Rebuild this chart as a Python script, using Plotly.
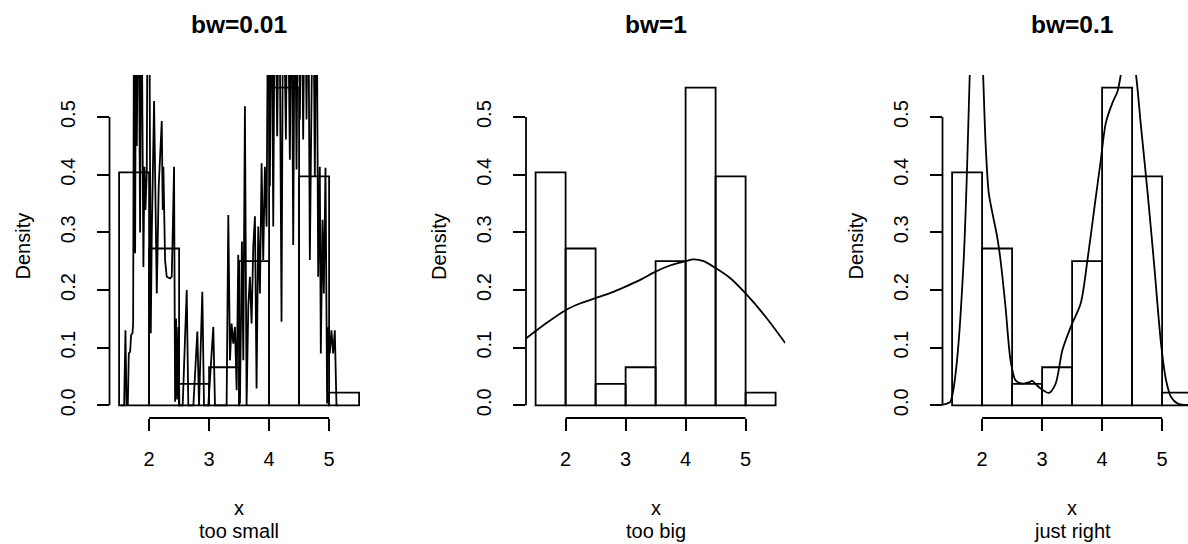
import plotly.graph_objects as go

# ---------------- data ----------------
breaks = [1.5, 2.0, 2.5, 3.0, 3.5, 4.0, 4.5, 5.0, 5.5]
hist_density = [0.404, 0.272, 0.037, 0.066, 0.250, 0.551, 0.397, 0.022]

titles = ["bw=0.01", "bw=1", "bw=0.1"]
subtitles = ["too small", "too big", "just right"]
x_ticks = [2, 3, 4, 5]
y_ticks = [0.0, 0.1, 0.2, 0.3, 0.4, 0.5]

# bw = 0.01 (jagged estimate; spikes beyond the top are clipped)
bw001_x = [1.529, 1.584, 1.606, 1.623, 1.645, 1.662, 1.684, 1.700, 1.723, 1.734,
           1.750, 1.767, 1.784, 1.795, 1.822, 1.850, 1.870, 1.905, 1.922, 1.939,
           1.961, 1.978, 2.000, 2.028, 2.045, 2.083, 2.128, 2.160, 2.211, 2.227,
           2.238, 2.266, 2.294, 2.350, 2.377, 2.394, 2.416, 2.433, 2.450, 2.466,
           2.488, 2.505, 2.560, 2.627, 2.654, 2.738, 2.804, 2.832, 2.887, 2.915,
           2.987, 3.070, 3.098, 3.292, 3.320, 3.348, 3.375, 3.403, 3.431, 3.459,
           3.486, 3.514, 3.547, 3.570, 3.597, 3.625, 3.653, 3.680, 3.708, 3.736,
           3.764, 3.791, 3.819, 3.847, 3.875, 3.902, 3.930, 3.958, 3.986, 4.013,
           4.040, 4.069, 4.097, 4.135, 4.169, 4.207, 4.235, 4.280, 4.307, 4.346,
           4.374, 4.402, 4.430, 4.457, 4.485, 4.513, 4.540, 4.568, 4.596, 4.624,
           4.651, 4.679, 4.707, 4.734, 4.762, 4.790, 4.818, 4.845, 4.862, 4.890,
           4.912, 4.940, 4.967, 4.989, 5.012, 5.039, 5.067, 5.095, 5.123, 5.150]
bw001_y = [0.000, 0.000, 0.130, 0.003, 0.000, 0.090, 0.093, 0.122, 0.125, 0.142,
           0.800, 0.264, 0.800, 0.450, 0.800, 0.300, 0.800, 0.240, 0.414, 0.339,
           0.403, 0.800, 0.800, 0.125, 0.300, 0.528, 0.194, 0.380, 0.493, 0.339,
           0.414, 0.252, 0.223, 0.220, 0.223, 0.300, 0.414, 0.006, 0.150, 0.010,
           0.136, 0.000, 0.000, 0.200, 0.000, 0.000, 0.128, 0.000, 0.197, 0.000,
           0.000, 0.136, 0.000, 0.000, 0.330, 0.078, 0.142, 0.107, 0.136, 0.026,
           0.261, 0.003, 0.284, 0.078, 0.519, 0.000, 0.171, 0.223, 0.142, 0.275,
           0.328, 0.029, 0.310, 0.194, 0.420, 0.252, 0.414, 0.310, 0.800, 0.380,
           0.800, 0.310, 0.800, 0.467, 0.800, 0.145, 0.800, 0.461, 0.800, 0.426,
           0.800, 0.278, 0.800, 0.409, 0.800, 0.496, 0.800, 0.461, 0.800, 0.496,
           0.800, 0.252, 0.484, 0.800, 0.397, 0.800, 0.223, 0.414, 0.090, 0.322,
           0.194, 0.412, 0.003, 0.136, 0.090, 0.130, 0.090, 0.130, 0.000, 0.000]

# bw = 1
bw1_x = [1.34, 1.67, 2.00, 2.25, 2.50, 2.75, 3.00, 3.25, 3.50, 3.75, 4.00, 4.13,
         4.30, 4.50, 4.75, 5.00, 5.33, 5.66]
bw1_y = [0.116, 0.142, 0.165, 0.177, 0.186, 0.195, 0.206, 0.218, 0.232, 0.243,
         0.250, 0.253, 0.250, 0.238, 0.220, 0.194, 0.154, 0.108]

# bw = 0.1
bw01_x = [1.303, 1.415, 1.470, 1.498, 1.582, 1.693, 1.749, 1.794, 1.850, 1.905,
          1.960, 2.017, 2.060, 2.111, 2.167, 2.250, 2.307, 2.390, 2.474, 2.557,
          2.669, 2.780, 2.836, 2.900, 2.975, 3.115, 3.226, 3.338, 3.477, 3.644,
          3.756, 3.867, 3.979, 4.062, 4.174, 4.258, 4.313, 4.380, 4.440, 4.500,
          4.564, 4.648, 4.759, 4.871, 4.982, 5.066, 5.149, 5.261, 5.456]
bw01_y = [0.000, 0.003, 0.006, 0.0145, 0.078, 0.252, 0.409, 0.574, 0.730, 0.780,
          0.740, 0.574, 0.450, 0.368, 0.336, 0.293, 0.252, 0.171, 0.078, 0.0435,
          0.0377, 0.040, 0.0423, 0.036, 0.029, 0.0215, 0.0377, 0.0957, 0.136, 0.177,
          0.252, 0.339, 0.426, 0.490, 0.525, 0.545, 0.574, 0.610, 0.625, 0.610,
          0.574, 0.484, 0.368, 0.240, 0.107, 0.0435, 0.0145, 0.003, 0.000]

curves = [(bw001_x, bw001_y, "linear"), (bw1_x, bw1_y, "spline"), (bw01_x, bw01_y, "spline")]

# ---------------- layout geometry (pixels) ----------------
W, H = 1188, 544
PANEL_LEFT = [109.5, 526.0, 942.5]
UNIT = 60.0
TOP, BOTTOM = 75.0, 418.0
FONT = "Liberation Sans, Arial, Helvetica, sans-serif"
LW = 1.8

x_lo = breaks[0] - 0.04 * (breaks[-1] - breaks[0])
x_hi = breaks[-1] + 0.04 * (breaks[-1] - breaks[0])
y_max = max(hist_density)
y_lo, y_hi = -0.04 * y_max, y_max * 1.04

mids = [(a + b) / 2 for a, b in zip(breaks[:-1], breaks[1:])]
widths = [b - a for a, b in zip(breaks[:-1], breaks[1:])]

fig = go.Figure()
annotations = []
shapes = []
for k in range(3):
    sx = "" if k == 0 else str(k + 1)
    L = PANEL_LEFT[k]
    full_w = (x_hi - x_lo) * UNIT
    R = min(L + full_w, W)
    xr_hi = x_lo + (R - L) / UNIT

    fig.add_trace(go.Bar(x=mids, y=hist_density, width=widths,
                         marker=dict(color="rgba(0,0,0,0)", line=dict(color="black", width=LW)),
                         xaxis="x" + sx, yaxis="y" + sx, showlegend=False, hoverinfo="skip"))
    cx, cy, shp = curves[k]
    fig.add_trace(go.Scatter(x=cx, y=cy, mode="lines",
                             line=dict(color="black", width=LW, shape=shp, smoothing=0.8),
                             xaxis="x" + sx, yaxis="y" + sx, showlegend=False))

    fig.layout["xaxis" + sx] = dict(
        domain=[L / W, R / W], range=[x_lo, xr_hi], anchor="y" + sx, automargin=False,
        tickmode="array", tickvals=x_ticks, ticktext=[str(t) for t in x_ticks],
        ticks="outside", ticklen=12, tickwidth=LW, tickcolor="black",
        showgrid=False, zeroline=False, showline=False, fixedrange=True,
        tickfont=dict(family=FONT, size=20, color="black"), ticklabelstandoff=11)
    fig.layout["yaxis" + sx] = dict(
        domain=[1 - BOTTOM / H, 1 - TOP / H], range=[y_lo, y_hi], anchor="x" + sx,
        automargin=False,
        tickmode="array", tickvals=y_ticks, ticktext=["%.1f" % t for t in y_ticks],
        tickangle=-90, ticks="outside", ticklen=12, tickwidth=LW, tickcolor="black",
        showgrid=False, zeroline=False, showline=False, fixedrange=True,
        tickfont=dict(family=FONT, size=20, color="black"), ticklabelstandoff=14)

    # axis lines spanning the tick range (R style)
    shapes.append(dict(type="line", xref="x" + sx, yref="y" + sx + " domain",
                       x0=x_ticks[0], x1=x_ticks[-1], y0=0, y1=0,
                       line=dict(color="black", width=LW)))
    shapes.append(dict(type="line", xref="x" + sx + " domain", yref="y" + sx,
                       x0=0, x1=0, y0=y_ticks[0], y1=y_ticks[-1],
                       line=dict(color="black", width=LW)))

    cxp = (L + full_w / 2) / W
    annotations.append(dict(text="<b>%s</b>" % titles[k], x=cxp, y=1 - 24.5 / H,
                            xref="paper", yref="paper", showarrow=False,
                            xanchor="center", yanchor="middle",
                            font=dict(family=FONT, size=24.5, color="black")))
    annotations.append(dict(text="x", x=cxp, y=1 - 508 / H, xref="paper", yref="paper",
                            showarrow=False, xanchor="center", yanchor="middle",
                            font=dict(family=FONT, size=20, color="black")))
    annotations.append(dict(text=subtitles[k], x=cxp, y=1 - 531 / H, xref="paper", yref="paper",
                            showarrow=False, xanchor="center", yanchor="middle",
                            font=dict(family=FONT, size=20, color="black")))
    annotations.append(dict(text="Density", x=(L - 87.5) / W, y=1 - (TOP + BOTTOM) / 2 / H,
                            xref="paper", yref="paper", showarrow=False, textangle=-90,
                            xanchor="center", yanchor="middle",
                            font=dict(family=FONT, size=20, color="black")))

fig.update_layout(width=W, height=H, margin=dict(l=0, r=0, t=0, b=0, autoexpand=False),
                  paper_bgcolor="white", plot_bgcolor="white",
                  annotations=annotations, shapes=shapes, barmode="overlay",
                  showlegend=False)
fig.write_html("out.html", config={"displayModeBar": False},
               post_script="document.body.style.margin='0';document.body.style.overflow='hidden';")
